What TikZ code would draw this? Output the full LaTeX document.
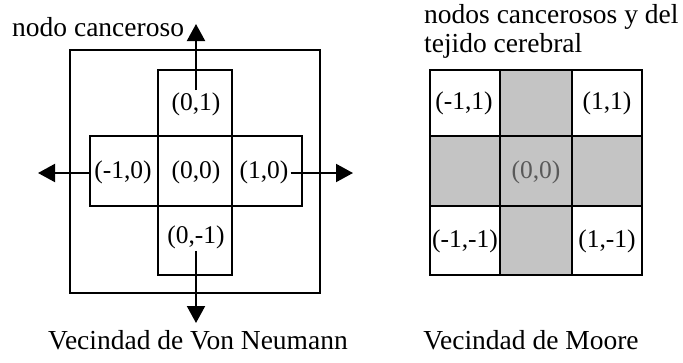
\documentclass[tikz,border=0pt]{standalone}
\usepackage{fontspec}
\setmainfont{Liberation Serif}
\usetikzlibrary{arrows.meta}
\definecolor{cellgray}{HTML}{C4C4C4}
\tikzset{
  frame/.style={draw=black, line width=2pt},
  lbl/.style={font=\fontsize{25.5}{28}\selectfont, inner sep=2pt},
  captext/.style={font=\fontsize{27.5}{30}\selectfont, inner sep=0pt},
  outarrow/.style={line width=2pt, -{Triangle[length=17pt,width=18pt]}},
}
\begin{document}
\begin{tikzpicture}[x=1pt,y=-1pt]
\useasboundingbox (0,0) rectangle (683,362);
% Von Neumann
\draw[frame] (70,50) rectangle (320,293);
\draw[frame] (158,70) rectangle (232,275);
\draw[frame] (90,136) rectangle (302,206);
\node[lbl] (n01) at (196,104) {(0,1)};
\node[lbl] (nm10) at (123,172) {(-1,0)};
\node[lbl] (n00) at (196,172) {(0,0)};
\node[lbl] (n10) at (264,172) {(1,0)};
\node[lbl] (n0m1) at (196,237) {(0,-1)};
\coordinate (tu) at (196,24);
\coordinate (tl) at (38,173);
\coordinate (tr) at (353,173);
\coordinate (td) at (196,323);
\coordinate (sl) at (90,173);
\draw[outarrow] (n01.north) -- (tu);
\draw[outarrow] (sl) -- (tl);
\draw[outarrow] (n10.east |- tr) -- (tr);
\draw[outarrow] (n0m1.south) -- (td);
\node[captext, anchor=west] (t1) at (12,27) {nodo canceroso};
\node[captext] (t2) at (198,340) {Vecindad de Von Neumann};
% Moore
\fill[cellgray] (500,70) rectangle (572,275);
\fill[cellgray] (430,136) rectangle (642,206);
\draw[frame] (430,70) rectangle (642,275);
\draw[frame] (500,70) -- (500,275);
\draw[frame] (572,70) -- (572,275);
\draw[frame] (430,136) -- (642,136);
\draw[frame] (430,206) -- (642,206);
\node[lbl] (mtl) at (464,103) {(-1,1)};
\node[lbl] (mtr) at (607,103) {(1,1)};
\node[lbl, text=black!65] (mc) at (536,172) {(0,0)};
\node[lbl] (mbl) at (465,241) {(-1,-1)};
\node[lbl] (mbr) at (607,241) {(1,-1)};
\node[captext, anchor=west] (t3) at (424,17) {nodos cancerosos y del};
\node[captext, anchor=west] (t4) at (424,46) {tejido cerebral};
\node[captext] (t5) at (531,340) {Vecindad de Moore};
\end{tikzpicture}
\end{document}
